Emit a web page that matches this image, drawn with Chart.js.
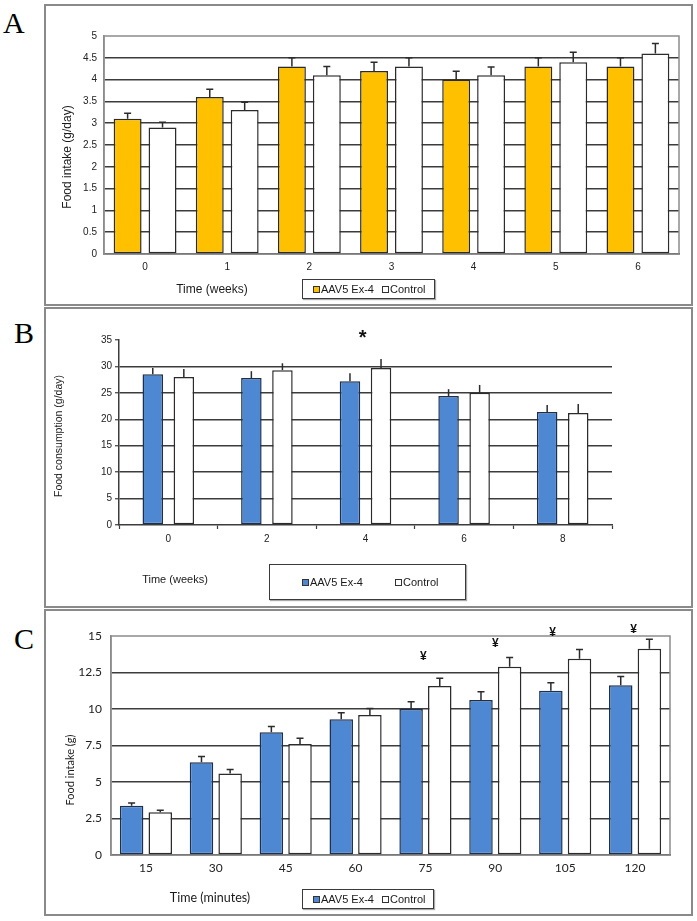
<!DOCTYPE html>
<html>
<head>
<meta charset="utf-8">
<script src="https://cdn.jsdelivr.net/npm/chart.js@4.4.1/dist/chart.umd.min.js"></script>
<style>
  html, body { margin: 0; padding: 0; background: #fff; }
  body { position: relative; width: 697px; height: 921px; overflow: hidden; font-family: "Liberation Sans", Arial, sans-serif; color: #1a1a1a; }
  .panel { position: absolute; left: 44px; width: 649px; border: 2px solid #8a8a8a; box-sizing: border-box; }
  .letter { position: absolute; font-family: "Liberation Serif", "Times New Roman", serif; font-size: 30px; line-height: 30px; color: #000; }
  canvas { position: absolute; left: 0; }
  .title { position: absolute; white-space: nowrap; transform: translate(-50%, -50%); line-height: 1; }
  .ytitle { transform: translate(-50%, -50%) rotate(-90deg); }
  .narrow { font-family: "Liberation Sans Narrow", "Liberation Sans", Arial, sans-serif; }
  .calib { font-family: Lato, "Open Sans", sans-serif; }
  .legend { position: absolute; box-sizing: border-box; border: 1px solid #3a3a3a; display: flex; align-items: center; white-space: nowrap; background: #fff; box-shadow: 1px 1px 1px #aaa; }
  .sw { display: inline-block; width: 5px; height: 5px; border: 1px solid #333; margin-right: 1px; }
</style>
</head>
<body>

<!-- panel frames -->
<div class="panel" style="top:4px;height:302px;"></div>
<div class="panel" style="top:307px;height:301px;"></div>
<div class="panel" style="top:609px;height:307px;"></div>

<div class="letter" style="left:3px;top:8px;">A</div>
<div class="letter" style="left:14px;top:318px;">B</div>
<div class="letter" style="left:14px;top:624px;">C</div>

<canvas id="chartA" width="697" height="305" style="top:0px;"></canvas>
<canvas id="chartB" width="697" height="300" style="top:306px;"></canvas>
<canvas id="chartC" width="697" height="306" style="top:609px;"></canvas>

<!-- axis titles -->
<div class="title ytitle narrow" style="left:67px;top:157px;font-size:12px;">Food intake (g/day)</div>
<div class="title narrow" style="left:212px;top:289px;font-size:12px;">Time (weeks)</div>

<div class="title ytitle" style="left:58px;top:436px;font-size:10.5px;">Food consumption (g/day)</div>
<div class="title" style="left:175px;top:579px;font-size:11px;">Time (weeks)</div>

<div class="title ytitle calib" style="left:69px;top:770px;font-size:11px;">Food intake (g)</div>
<div class="title calib" style="left:210px;top:898px;font-size:12.5px;">Time (minutes)</div>

<!-- legends -->
<div class="legend narrow" style="left:302px;top:279px;width:133px;height:20px;font-size:11px;padding-left:10px;">
  <span class="sw" style="background:#FFC000"></span>AAV5 Ex-4<span style="width:8px"></span><span class="sw"></span>Control
</div>
<div class="legend" style="left:269px;top:564px;width:197px;height:36px;font-size:11px;padding-left:32px;">
  <span class="sw" style="background:#4F88D2"></span>AAV5 Ex-4<span style="width:32px"></span><span class="sw"></span>Control
</div>
<div class="legend narrow" style="left:302px;top:889px;width:132px;height:20px;font-size:11px;padding-left:10px;">
  <span class="sw" style="background:#4F88D2"></span>AAV5 Ex-4<span style="width:8px"></span><span class="sw"></span>Control
</div>

<script>
// ---- panel A: food intake per week ----
const weeksA = ['0', '1', '2', '3', '4', '5', '6'];
const aavA = [3.1, 3.6, 4.3, 4.2, 4.0, 4.3, 4.3];
const aavErrA = [0.13, 0.18, 0.2, 0.2, 0.19, 0.2, 0.2];
const ctrlA = [2.9, 3.3, 4.1, 4.3, 4.1, 4.4, 4.6];
const ctrlErrA = [0.12, 0.18, 0.2, 0.2, 0.19, 0.23, 0.23];
const ticksA = [0, 0.5, 1, 1.5, 2, 2.5, 3, 3.5, 4, 4.5, 5];

// ---- panel B: food consumption ----
const weeksB = ['0', '2', '4', '6', '8'];
const aavB = [28.5, 27.8, 27.2, 24.4, 21.4];
const aavErrB = [1.2, 1.3, 1.5, 1.3, 1.3];
const ctrlB = [28.0, 29.3, 29.7, 25.0, 21.2];
const ctrlErrB = [1.5, 1.3, 1.7, 1.5, 1.7];
const ticksB = [0, 5, 10, 15, 20, 25, 30, 35];
const sigTextB = ['*'];
const sigAtB = [1.97];        // category index
const sigLevelB = [35.3];     // value units

// ---- panel C: cumulative food intake ----
const minutesC = ['15', '30', '45', '60', '75', '90', '105', '120'];
const aavC = [3.37, 6.35, 8.4, 9.29, 10.0, 10.62, 11.25, 11.62];
const aavErrC = [0.2, 0.4, 0.4, 0.45, 0.5, 0.56, 0.55, 0.6];
const ctrlC = [2.92, 5.59, 7.6, 9.59, 11.58, 12.9, 13.44, 14.13];
const ctrlErrC = [0.15, 0.27, 0.4, 0.45, 0.52, 0.63, 0.64, 0.64];
const ticksC = [0, 2.5, 5, 7.5, 10, 12.5, 15];
const sigTextC = ['¥', '¥', '¥', '¥'];
const sigAtC = [3.97, 5.0, 5.82, 6.98];
const sigLevelC = [13.56, 14.45, 15.25, 15.45];

const NARROW = '"Liberation Sans Narrow", "Liberation Sans", Arial, sans-serif';
const SANS = '"Liberation Sans", Arial, sans-serif';
const CALIB = 'Lato, "Open Sans", sans-serif';
const DARK = '#3c3c3c';

// error bars drawn on top of each bar (upper half only, like the Excel original)
const errorBars = {
    id: 'errorBars',
    afterDatasetsDraw(chart, args, opts) {
        const ctx = chart.ctx;
        const y = chart.scales.y;
        chart.data.datasets.forEach((ds, i) => {
            chart.getDatasetMeta(i).data.forEach((bar, j) => {
                const top = y.getPixelForValue(ds.data[j] + ds.errors[j]);
                ctx.save();
                ctx.strokeStyle = opts.color;
                ctx.lineWidth = opts.width;
                ctx.beginPath();
                ctx.moveTo(bar.x, bar.y);
                ctx.lineTo(bar.x, top);
                if (opts.cap) {
                    ctx.moveTo(bar.x - opts.cap / 2, top);
                    ctx.lineTo(bar.x + opts.cap / 2, top);
                }
                ctx.stroke();
                ctx.restore();
            });
        });
    }
};

// grey frame round the plot area
const plotBox = {
    id: 'plotBox',
    beforeDatasetsDraw(chart, args, opts) {
        if (!opts.color) return;
        const a = chart.chartArea;
        const ctx = chart.ctx;
        ctx.save();
        ctx.strokeStyle = opts.color;
        ctx.lineWidth = opts.width;
        ctx.strokeRect(a.left, a.top, a.right - a.left, a.bottom - a.top);
        ctx.restore();
    }
};

// significance marks (* and ¥)
const sigMarks = {
    id: 'sigMarks',
    afterDatasetsDraw(chart, args, opts) {
        if (!opts.text) return;
        const ctx = chart.ctx;
        const x = chart.scales.x;
        const y = chart.scales.y;
        ctx.save();
        ctx.font = opts.font;
        ctx.fillStyle = '#111';
        ctx.textAlign = 'center';
        ctx.textBaseline = 'middle';
        opts.text.forEach((t, i) => {
            ctx.fillText(t, x.getPixelForValue(opts.at[i]), y.getPixelForValue(opts.level[i]));
        });
        ctx.restore();
    }
};

function barSet(label, data, errors, fill, border, cat, bar) {
    return {
        label: label,
        data: data,
        errors: errors,
        backgroundColor: fill,
        borderColor: border,
        borderWidth: 1.5,
        borderSkipped: false,
        categoryPercentage: cat,
        barPercentage: bar
    };
}

function fixedTicks(list) {
    return scale => { scale.ticks = list.map(v => ({ value: v })); };
}

// ---------- A ----------
new Chart(document.getElementById('chartA'), {
    type: 'bar',
    data: {
        labels: weeksA,
        datasets: [
            barSet('AAV5 Ex-4', aavA, aavErrA, '#FFC000', '#2b2b2b', 0.85, 0.8),
            barSet('Control', ctrlA, ctrlErrA, '#ffffff', '#2b2b2b', 0.85, 0.8)
        ]
    },
    options: {
        responsive: false,
        animation: false,
        devicePixelRatio: 1,
        layout: { padding: { left: 64, right: 18, top: 36, bottom: 21 } },
        plugins: {
            legend: { display: false },
            tooltip: { enabled: false },
            errorBars: { color: '#2b2b2b', width: 1.5, cap: 7 },
            plotBox: { color: '#8c8c8c', width: 1.5 },
            sigMarks: {}
        },
        scales: {
            x: {
                grid: { display: false, drawTicks: false },
                border: { color: DARK, width: 1.5 },
                ticks: { color: '#222', font: { family: NARROW, size: 10 }, padding: 7 },
                afterFit: s => { s.height = 30; }
            },
            y: {
                min: 0, max: 5,
                afterBuildTicks: fixedTicks(ticksA),
                grid: {
                    drawTicks: false,
                    lineWidth: 1.5,
                    color: c => (c.tick.value === 0 || c.tick.value === 5) ? 'rgba(0,0,0,0)' : DARK
                },
                border: { color: '#8c8c8c', width: 1.5 },
                ticks: { color: '#222', font: { family: NARROW, size: 10 }, padding: 7, callback: v => String(v) },
                afterFit: s => { s.width = 40; }
            }
        }
    },
    plugins: [plotBox, errorBars, sigMarks]
});

// ---------- B ----------
new Chart(document.getElementById('chartB'), {
    type: 'bar',
    data: {
        labels: weeksB,
        datasets: [
            barSet('AAV5 Ex-4', aavB, aavErrB, '#4F88D2', '#1d2f4a', 0.63, 0.66),
            barSet('Control', ctrlB, ctrlErrB, '#ffffff', '#2b2b2b', 0.63, 0.66)
        ]
    },
    options: {
        responsive: false,
        animation: false,
        devicePixelRatio: 1,
        layout: { padding: { left: 59, right: 85, top: 34, bottom: 41 } },
        plugins: {
            legend: { display: false },
            tooltip: { enabled: false },
            errorBars: { color: '#2b2b2b', width: 1.5, cap: 0 },
            plotBox: {},
            sigMarks: { text: sigTextB, at: sigAtB, level: sigLevelB, font: 'bold 20px ' + SANS }
        },
        scales: {
            x: {
                grid: { display: true, drawOnChartArea: false, drawTicks: true, tickLength: 4, offset: true, tickColor: DARK, tickWidth: 1.2 },
                border: { color: DARK, width: 1.5 },
                ticks: { color: '#222', font: { family: SANS, size: 10 }, padding: 4 },
                afterFit: s => { s.height = 40; }
            },
            y: {
                min: 0, max: 35,
                afterBuildTicks: fixedTicks(ticksB),
                grid: {
                    drawTicks: true,
                    tickLength: 4,
                    tickColor: DARK,
                    tickWidth: 1.2,
                    lineWidth: 1.5,
                    color: c => (c.tick.value === 0 || c.tick.value === 35) ? 'rgba(0,0,0,0)' : DARK
                },
                border: { color: DARK, width: 1.5 },
                ticks: { color: '#222', font: { family: SANS, size: 10 }, padding: 3, callback: v => String(v) },
                afterFit: s => { s.width = 60; }
            }
        }
    },
    plugins: [plotBox, errorBars, sigMarks]
});

// ---------- C ----------
new Chart(document.getElementById('chartC'), {
    type: 'bar',
    data: {
        labels: minutesC,
        datasets: [
            barSet('AAV5 Ex-4', aavC, aavErrC, '#4F88D2', '#1d2f4a', 0.82, 0.82),
            barSet('Control', ctrlC, ctrlErrC, '#ffffff', '#2b2b2b', 0.82, 0.82)
        ]
    },
    options: {
        responsive: false,
        animation: false,
        devicePixelRatio: 1,
        layout: { padding: { left: 61, right: 27, top: 27, bottom: 20 } },
        plugins: {
            legend: { display: false },
            tooltip: { enabled: false },
            errorBars: { color: '#2b2b2b', width: 1.5, cap: 7 },
            plotBox: { color: '#8c8c8c', width: 1.5 },
            sigMarks: { text: sigTextC, at: sigAtC, level: sigLevelC, font: 'bold 12px ' + SANS }
        },
        scales: {
            x: {
                grid: { display: false, drawTicks: false },
                border: { color: DARK, width: 1.5 },
                ticks: { color: '#222', font: { family: CALIB, size: 12 }, padding: 6 },
                afterFit: s => { s.height = 40; }
            },
            y: {
                min: 0, max: 15,
                afterBuildTicks: fixedTicks(ticksC),
                grid: {
                    drawTicks: false,
                    lineWidth: 1.5,
                    color: c => (c.tick.value === 0 || c.tick.value === 15) ? 'rgba(0,0,0,0)' : DARK
                },
                border: { color: '#8c8c8c', width: 1.5 },
                ticks: { color: '#222', font: { family: CALIB, size: 12 }, padding: 9, callback: v => String(v) },
                afterFit: s => { s.width = 50; }
            }
        }
    },
    plugins: [plotBox, errorBars, sigMarks]
});
</script>
</body>
</html>
